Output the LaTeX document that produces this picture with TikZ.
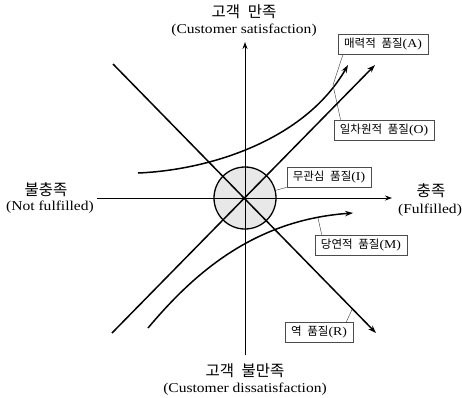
\documentclass[tikz,border=0pt]{standalone}
\usepackage{fontspec}
\setmainfont[FakeStretch=1.15]{Liberation Serif}
\newfontfamily\kr[WordSpace=2.2]{Noto Sans CJK KR}
\usetikzlibrary{arrows.meta}
\begin{document}
\begin{tikzpicture}[x=1pt,y=-1pt,
  axis/.style={line width=0.9pt,-{Stealth[length=7pt,width=5pt]}},
  curve/.style={line width=1.5pt,-{Stealth[length=8pt,width=5.5pt]}},
  lbox/.style={draw=black!70,line width=0.6pt,fill=white,inner xsep=6pt,inner ysep=4pt,font=\fontsize{12}{14}\selectfont},
  leader/.style={line width=0.4pt,draw=black!80},
  ttl/.style={font=\fontsize{15.5}{17}\selectfont\kr},
  sub/.style={font=\fontsize{13.5}{15}\selectfont}]
\newcommand{\kk}[1]{{\fontsize{11.5}{14}\selectfont\kr #1}}
\useasboundingbox (0,0) rectangle (462,397);
\coordinate (C) at (245,198);
\node[circle,fill=black!9,draw=black,line width=1.3pt,minimum size=62pt,inner sep=0pt] (ring) at (C) {};
% axes
\coordinate (vb) at (245,355); \coordinate (vt) at (245,42);
\draw[axis] (vb) -- (vt);
\coordinate (hl) at (97,198); \coordinate (hr) at (392,198);
\draw[axis] (hl) -- (hr);
% straight quality lines
\coordinate (r0) at (113,64); \coordinate (r1) at (376,333);
\draw[curve] (r0) -- (r1);
\coordinate (o0) at (112,333); \coordinate (o1) at (375,65);
\draw[curve] (o0) -- (o1);
% curves
\coordinate (a0) at (138,173); \coordinate (a1) at (348,65);
\draw[curve] (a0) .. controls (210,170) and (305,140) .. (a1);
\coordinate (m0) at (148,328); \coordinate (m1) at (353,213);
\draw[curve] (m0) .. controls (195,272) and (255,220) .. (m1);
% axis labels
\node[ttl] (t1) at (244,12) {고객 만족};
\node[sub] (t2) at (244,30) {(Customer satisfaction)};
\node[ttl] (b1) at (245,371) {고객 불만족};
\node[sub] (b2) at (245,389) {(Customer dissatisfaction)};
\node[ttl] (l1) at (46,190) {불충족};
\node[sub] (l2) at (50,207) {(Not fulfilled)};
\node[ttl] (rr1) at (431,191) {충족};
\node[sub] (rr2) at (430,210) {(Fulfilled)};
% boxes
\node[lbox] (bA) at (383,44.5) {\kk{매력적 품질}(A)};
\node[lbox] (bO) at (384,130) {\kk{일차원적 품질}(O)};
\node[lbox] (bI) at (329,177) {\kk{무관심 품질}(I)};
\node[lbox] (bM) at (361,245) {\kk{당연적 품질}(M)};
\node[lbox] (bR) at (319,332.5) {\kk{역 품질}(R)};
% leaders
\coordinate (pA) at (333,85);
\coordinate (pM) at (318,218);
\coordinate (pR) at (352,309.5);
\draw[leader] ([xshift=5pt]bA.south west) -- (pA);
\draw[leader] ([xshift=7pt]bO.north west) -- (pA);
\draw[leader] (bI.south west) -- (ring.14);
\draw[leader] ([xshift=7pt]bM.north west) -- (pM);
\draw[leader] ([xshift=-7pt]bR.north east) -- (pR);
\end{tikzpicture}
\end{document}
